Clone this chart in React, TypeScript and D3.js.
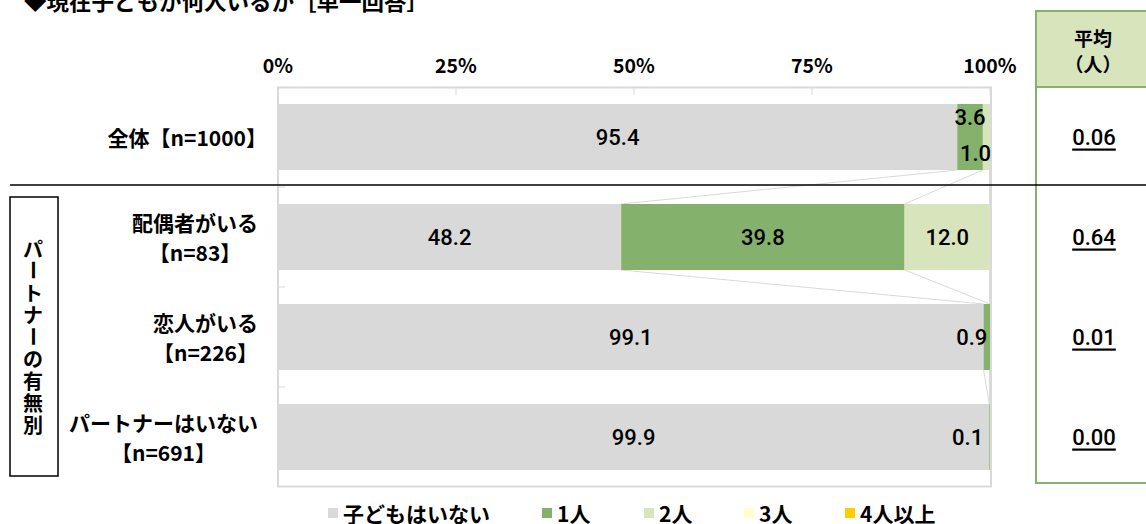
import React from "react";
import * as d3 from "d3";

const titleText = "◆現在子どもが何人いるか［単一回答］";
const categoryLines: string[][] = [
  ["全体【n=1000】"],
  ["配偶者がいる", "【n=83】"],
  ["恋人がいる", "【n=226】"],
  ["パートナーはいない", "【n=691】"],
];
const seriesNames = ["子どもはいない", "1人", "2人", "3人", "4人以上"];
const noChild = [95.4, 48.2, 99.1, 99.9];
const oneChild = [3.6, 39.8, 0.9, 0.1];
const twoChildren = [1.0, 12.0, 0, 0];
const threeChildren = [0, 0, 0, 0];
const fourPlus = [0, 0, 0, 0];
const averages = ["0.06", "0.64", "0.01", "0.00"];
const tickValues = [0, 25, 50, 75, 100];
const groupLabel = "パートナーの有無別";
const avgHeader = ["平均", "（人）"];

const seriesValues = [noChild, oneChild, twoChildren, threeChildren, fourPlus];
const colors = ["#d9d9d9", "#84b26c", "#d8e4bc", "#ffffcc", "#ffcc00"];

// manual label nudges (series index, category index) -> [dx, dy]
const nudge: Record<string, [number, number]> = {
  "1-0": [0, -20],
  "2-0": [-11, 16],
  "1-2": [-15, 0],
  "1-3": [-22, 0],
};

const FONT = "'Noto Sans CJK JP', 'Noto Sans', sans-serif";
const NUMFONT = "Roboto, 'Noto Sans CJK JP', sans-serif";

function measure(text: string, font: string): number {
  const c = document.createElement("canvas").getContext("2d");
  if (!c) return text.length * 20;
  c.font = font;
  let w = c.measureText(text).width;
  // closing lenticular bracket carries blank space on its right side
  if (text.endsWith("】")) w -= 9;
  return w;
}

export default function App() {
  const W = 1146,
    H = 524;
  const x = d3.scaleLinear().domain([0, 100]).range([278, 990]);
  const idx = categoryLines.map((_, i) => i);
  const y = d3
    .scaleBand<number>()
    .domain(idx)
    .range([87, 487])
    .paddingInner(0.34)
    .paddingOuter(0.17);
  const bw = y.bandwidth();

  const stack = idx.map((i) => {
    let acc = 0;
    return seriesValues.map((s) => {
      const start = acc;
      acc += s[i];
      return [start, acc];
    });
  });

  const labelFont = `bold 21px ${FONT}`;
  const labelRight = 258;

  const seriesLines: JSX.Element[] = [];
  for (let i = 0; i < idx.length - 1; i++) {
    for (let k = 0; k < seriesValues.length; k++) {
      seriesLines.push(
        <line
          key={`sl-${i}-${k}`}
          x1={x(stack[i][k][1])}
          y1={(y(i) as number) + bw}
          x2={x(stack[i + 1][k][1])}
          y2={y(i + 1) as number}
          stroke="#d9d9d9"
          strokeWidth={1}
        />
      );
    }
  }

  const legendX = [328, 542, 644, 744, 845];

  return (
    <svg
      width={W}
      height={H}
      style={{ position: "absolute", left: 0, top: 0, background: "#fff" }}
      fontFamily={FONT}
    >
      <rect x={0} y={0} width={W} height={H} fill="#fff" />
      {/* title */}
      <text x={24} y={0} fontSize={22.5} fontWeight="bold" dominantBaseline="central" fill="#000">
        {titleText}
      </text>

      {/* tick labels */}
      {tickValues.map((t) => (
        <text
          key={`t${t}`}
          x={x(t)}
          y={64}
          textAnchor="middle"
          dominantBaseline="central"
          fontSize={19.5}
          fontWeight="bold"
        >
          {t}%
        </text>
      ))}

      {/* plot area border */}
      <rect x={278} y={87.5} width={713} height={399} fill="none" stroke="#d9d9d9" strokeWidth={2} />
      {tickValues.map((t) => (
        <line key={`tk${t}`} x1={x(t)} x2={x(t)} y1={88} y2={95} stroke="#d9d9d9" strokeWidth={1} />
      ))}
      {idx.slice(1).map((i) => {
        const yy = (y(i) as number) - (y.step() - bw) / 2;
        return <line key={`ct${i}`} x1={278} x2={285} y1={yy} y2={yy} stroke="#d9d9d9" strokeWidth={1} />;
      })}

      {seriesLines}

      {/* bars */}
      {idx.map((i) =>
        seriesValues.map((s, k) =>
          s[i] > 0 ? (
            <rect
              key={`b${i}-${k}`}
              x={x(stack[i][k][0])}
              y={y(i)}
              width={x(stack[i][k][1]) - x(stack[i][k][0])}
              height={bw}
              fill={colors[k]}
            />
          ) : null
        )
      )}

      {/* data labels */}
      {idx.map((i) =>
        seriesValues.map((s, k) => {
          if (s[i] <= 0) return null;
          const nd = nudge[`${k}-${i}`] || [0, 0];
          const cx = (x(stack[i][k][0]) + x(stack[i][k][1])) / 2 + nd[0];
          const cy = (y(i) as number) + bw / 2 + nd[1];
          return (
            <text
              key={`l${i}-${k}`}
              x={cx}
              y={cy}
              textAnchor="middle"
              dominantBaseline="central"
              fontSize={22}
              fontWeight={500}
              fontFamily={NUMFONT}
              fill="#000"
            >
              {s[i].toFixed(1)}
            </text>
          );
        })
      )}

      {/* category labels */}
      {idx.map((i) => {
        const lines = categoryLines[i];
        const maxW = Math.max(...lines.map((l) => measure(l, labelFont)));
        const cx = labelRight - maxW / 2;
        const cy = (y(i) as number) + bw / 2;
        const lh = 30;
        return lines.map((l, j) => {
          const off = lines.length === 1 && l.endsWith("】") ? 4.5 : 0;
          return (
            <text
              key={`c${i}-${j}`}
              x={cx + off}
              y={cy + (j - (lines.length - 1) / 2) * lh}
              textAnchor="middle"
              dominantBaseline="central"
              fontSize={21}
              fontWeight="bold"
            >
              {l}
            </text>
          );
        });
      })}

      {/* group box */}
      <rect x={10} y={197} width={48} height={279} fill="none" stroke="#000" strokeWidth={1.5} />
      {Array.from(groupLabel).map((ch, j) => {
        const cy = 248 + j * 22.1;
        const rot = ch === "ー";
        return (
          <text
            key={`g${j}`}
            x={33}
            y={cy}
            textAnchor="middle"
            dominantBaseline="central"
            fontSize={20}
            fontWeight="bold"
            transform={rot ? `rotate(90 33 ${cy})` : undefined}
          >
            {ch}
          </text>
        );
      })}

      {/* averages table */}
      <rect x={1036} y={11} width={120} height={76} fill="#d8e4bc" stroke="#84b26c" strokeWidth={2} />
      <rect x={1036} y={87} width={120} height={396} fill="none" stroke="#84b26c" strokeWidth={2} />

      {/* separator line */}
      <line x1={10} x2={1146} y1={185} y2={185} stroke="#000" strokeWidth={1.5} />

      {avgHeader.map((h, j) => (
        <text
          key={`ah${j}`}
          x={1093}
          y={37 + j * 26}
          textAnchor="middle"
          dominantBaseline="central"
          fontSize={19}
          fontWeight="bold"
        >
          {h}
        </text>
      ))}
      {idx.map((i) => (
        <text
          key={`av${i}`}
          x={1094}
          y={(y(i) as number) + bw / 2}
          textAnchor="middle"
          dominantBaseline="central"
          fontSize={22}
          fontWeight={500}
          fontFamily={NUMFONT}
          textDecoration="underline"
        >
          {averages[i]}
        </text>
      ))}

      {/* legend */}
      {seriesNames.map((n, k) => (
        <g key={`lg${k}`}>
          <rect x={legendX[k]} y={508} width={10} height={10} fill={colors[k]} />
          <text x={legendX[k] + 15} y={513} dominantBaseline="central" fontSize={21} fontWeight="bold">
            {n}
          </text>
        </g>
      ))}
    </svg>
  );
}
